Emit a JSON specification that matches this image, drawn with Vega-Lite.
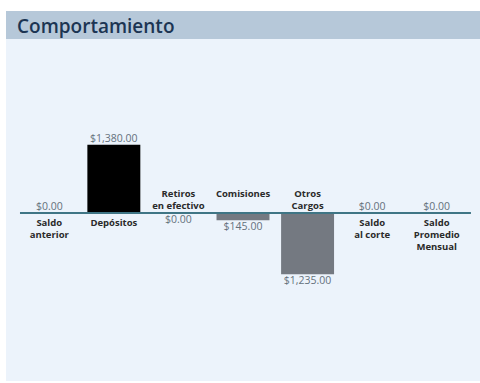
{
  "$schema": "https://vega.github.io/schema/vega-lite/v6.json",
  "width": 474,
  "height": 370,
  "autosize": {"type": "none"},
  "padding": {"left": 6, "top": 11, "right": 0, "bottom": 2},
  "background": "white",
  "title": {
    "text": "Comportamiento",
    "anchor": "start",
    "frame": "group",
    "orient": "top",
    "offset": 0,
    "dx": 11,
    "dy": 41,
    "baseline": "alphabetic",
    "font": "Open Sans",
    "fontSize": 19,
    "fontWeight": 600,
    "color": "#1c3553"
  },
  "config": {
    "view": {"stroke": null, "fill": "#ecf3fb"},
    "text": {"font": "Open Sans"}
  },
  "datasets": {
    "rows": [
      {"cat": "Saldo anterior", "value": 0, "label": ["Saldo", "anterior"], "amount": "$0.00", "side": "pos", "kind": "none"},
      {"cat": "Depósitos", "value": 1380, "label": ["Depósitos"], "amount": "$1,380.00", "side": "pos", "kind": "dep"},
      {"cat": "Retiros en efectivo", "value": 0, "label": ["Retiros", "en efectivo"], "amount": "$0.00", "side": "neg", "kind": "none"},
      {"cat": "Comisiones", "value": -145, "label": ["Comisiones", ""], "amount": "$145.00", "side": "neg", "kind": "car"},
      {"cat": "Otros Cargos", "value": -1235, "label": ["Otros", "Cargos"], "amount": "$1,235.00", "side": "neg", "kind": "car"},
      {"cat": "Saldo al corte", "value": 0, "label": ["Saldo", "al corte"], "amount": "$0.00", "side": "pos", "kind": "none"},
      {"cat": "Saldo Promedio Mensual", "value": 0, "label": ["Saldo", "Promedio", "Mensual"], "amount": "$0.00", "side": "pos", "kind": "none"}
    ]
  },
  "layer": [
    {
      "data": {"values": [{"top": 4081, "bottom": 3515}]},
      "mark": {"type": "rect", "color": "#b6c8d9"},
      "encoding": {
        "y": {"field": "bottom", "type": "quantitative", "scale": {"domain": [-3394, 4081], "nice": false, "zero": false}, "axis": null},
        "y2": {"field": "top"}
      }
    },
    {
      "data": {"name": "rows"},
      "mark": {"type": "bar"},
      "encoding": {
        "x": {"field": "cat", "type": "nominal", "scale": {"domain": ["Saldo anterior", "Depósitos", "Retiros en efectivo", "Comisiones", "Otros Cargos", "Saldo al corte", "Saldo Promedio Mensual"], "paddingInner": 0.18, "paddingOuter": 0.26}, "axis": null},
        "y": {"field": "value", "type": "quantitative", "scale": {"domain": [-3394, 4081], "nice": false, "zero": false}, "axis": null},
        "y2": {"datum": 0},
        "color": {"field": "kind", "type": "nominal", "scale": {"domain": ["none", "dep", "car"], "range": ["#ecf3fb", "#000000", "#747981"]}, "legend": null}
      }
    },
    {
      "data": {"values": [{"a": "Saldo anterior", "b": "Saldo Promedio Mensual", "y": 0}]},
      "mark": {"type": "rule", "color": "#3f7585", "strokeWidth": 2},
      "encoding": {
        "x": {"field": "a", "type": "nominal", "bandPosition": -0.053},
        "x2": {"field": "b", "bandPosition": 1.146},
        "y": {"field": "y", "type": "quantitative"}
      }
    },
    {
      "data": {"name": "rows"},
      "transform": [{"filter": "datum.side == 'pos'"}],
      "mark": {"type": "text", "baseline": "bottom", "dy": -1, "fontSize": 10.5, "color": "#65717c"},
      "encoding": {
        "x": {"field": "cat", "type": "nominal"},
        "y": {"field": "value", "type": "quantitative"},
        "text": {"field": "amount"}
      }
    },
    {
      "data": {"name": "rows"},
      "transform": [{"filter": "datum.side == 'neg'"}],
      "mark": {"type": "text", "baseline": "top", "dy": 2, "fontSize": 10.5, "color": "#65717c"},
      "encoding": {
        "x": {"field": "cat", "type": "nominal"},
        "y": {"field": "value", "type": "quantitative"},
        "text": {"field": "amount"}
      }
    },
    {
      "data": {"name": "rows"},
      "transform": [{"filter": "datum.side == 'pos'"}],
      "mark": {"type": "text", "baseline": "top", "dy": 5, "fontSize": 9.5, "fontWeight": "bold", "lineHeight": 12, "color": "#2a2a2a"},
      "encoding": {
        "x": {"field": "cat", "type": "nominal"},
        "y": {"datum": 0},
        "text": {"field": "label"}
      }
    },
    {
      "data": {"name": "rows"},
      "transform": [{"filter": "datum.side == 'neg'"}],
      "mark": {"type": "text", "baseline": "bottom", "dy": -14, "fontSize": 9.5, "fontWeight": "bold", "lineHeight": 12, "color": "#2a2a2a"},
      "encoding": {
        "x": {"field": "cat", "type": "nominal"},
        "y": {"datum": 0},
        "text": {"field": "label"}
      }
    }
  ]
}
